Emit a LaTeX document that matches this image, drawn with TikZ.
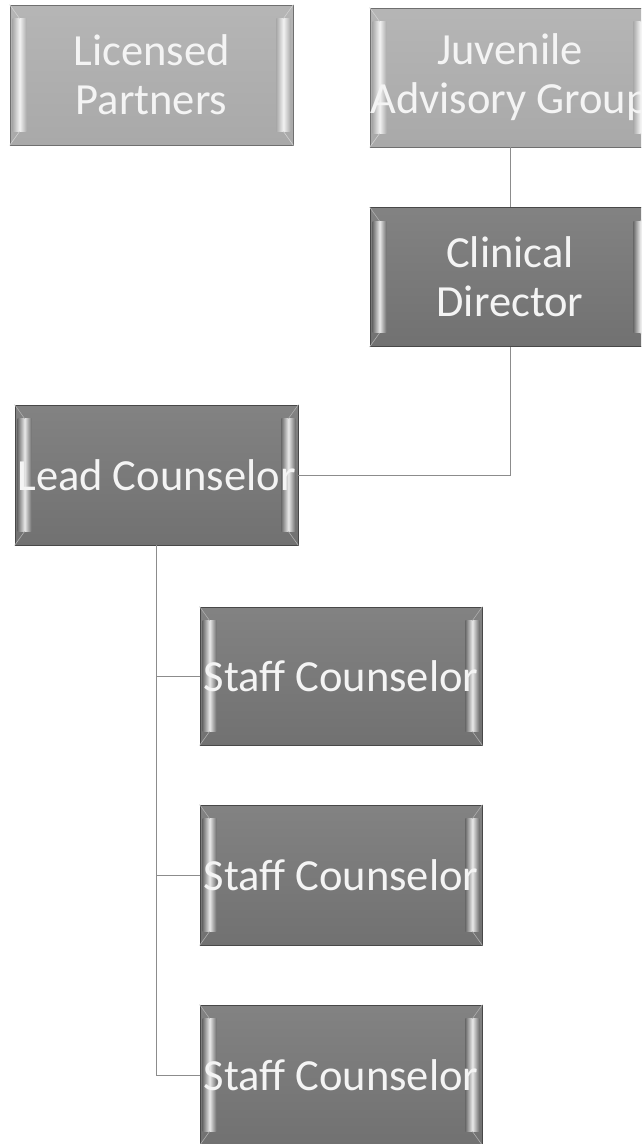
\documentclass[tikz,border=0pt]{standalone}
\usepackage{fontspec}
\setmainfont{Carlito}
\definecolor{lightbox}{HTML}{ABABAB}
\definecolor{darkbox}{HTML}{6E6E6E}
\definecolor{linkgray}{HTML}{8C8C8C}
\definecolor{txt}{HTML}{F4F4F4}
\pgfdeclarehorizontalshading{lightboxstrip}{100bp}{color(0bp)=(lightbox); color(25bp)=(lightbox); color(50bp)=(lightbox!15!white); color(75bp)=(lightbox); color(100bp)=(lightbox)}
\pgfdeclarehorizontalshading{darkboxstrip}{100bp}{color(0bp)=(darkbox); color(25bp)=(darkbox); color(50bp)=(darkbox!15!white); color(75bp)=(darkbox); color(100bp)=(darkbox)}
\pgfdeclareverticalshading{lightboxbody}{100bp}{color(0bp)=(lightbox!95!black); color(100bp)=(lightbox!80!white)}
\pgfdeclareverticalshading{darkboxbody}{100bp}{color(0bp)=(darkbox!95!black); color(100bp)=(darkbox!80!white)}
\tikzset{
  orgbox/.style={rectangle, inner sep=0pt, minimum width=280pt, minimum height=139pt,
    align=center, text=txt, font=\fontsize{44.5}{49}\selectfont,
    draw=#1!65!black, line width=0.8pt, shading=#1body},
  link/.style={draw=linkgray, line width=1pt}
}
\begin{document}
\begin{tikzpicture}[x=1pt,y=-1pt]
\useasboundingbox (0,0) rectangle (641,1144);
\clip (0,0) rectangle (641,1144);
% boxes (shaded body only; text placed afterwards on top of the bevels)
\node[orgbox=lightbox, minimum width=283pt, minimum height=140pt] (lp) at (151.5,75) {};
\node[orgbox=lightbox] (jag) at (510,77.5) {};
\node[orgbox=darkbox] (cd) at (510,277) {};
\node[orgbox=darkbox, minimum width=283pt, minimum height=140pt] (lc) at (156.5,475) {};
\node[orgbox=darkbox, minimum width=282pt, minimum height=138pt] (s1) at (341,676) {};
\node[orgbox=darkbox, minimum width=282pt, minimum height=140pt] (s2) at (341,875) {};
\node[orgbox=darkbox, minimum width=282pt, minimum height=140pt] (s3) at (341,1075) {};
% bevel highlights
\foreach \n/\c in {lp/lightbox, jag/lightbox, cd/darkbox, lc/darkbox, s1/darkbox, s2/darkbox, s3/darkbox}{
  \shade[shading=\c strip] ([xshift=3pt,yshift=-14pt]\n.north west) rectangle ([xshift=17pt,yshift=14pt]\n.south west);
  \shade[shading=\c strip] ([xshift=-17pt,yshift=-14pt]\n.north east) rectangle ([xshift=-3pt,yshift=14pt]\n.south east);
  \draw[\c!55!white, line width=0.6pt]
    (\n.north west) -- ([xshift=10pt,yshift=-14pt]\n.north west)
    (\n.south west) -- ([xshift=10pt,yshift=14pt]\n.south west)
    (\n.north east) -- ([xshift=-10pt,yshift=-14pt]\n.north east)
    (\n.south east) -- ([xshift=-10pt,yshift=14pt]\n.south east);
}
% texts
\tikzset{lbl/.style={inner sep=0pt, align=center, text=txt, font=\fontsize{44.5}{49}\selectfont}}
\node[lbl] (lpt) at (lp) {Licensed\\Partners};
\node[lbl] (jagt) at (jag) {Juvenile\\Advisory Group};
\node[lbl] (cdt) at (cd) {Clinical\\Director};
\node[lbl] (lct) at (lc) {Lead Counselor};
\node[lbl] (s1t) at (s1) {Staff Counselor};
\node[lbl] (s2t) at (s2) {Staff Counselor};
\node[lbl] (s3t) at (s3) {Staff Counselor};
% connectors
\coordinate (bend) at (cd.south |- lc.east);
\draw[link] (jag.south) -- (cd.north);
\draw[link] (cd.south) -- (bend) -- (lc.east);
\draw[link] (lc.south) -- (lc.south |- s3.west) -- (s3.west);
\draw[link] (lc.south |- s1.west) -- (s1.west);
\draw[link] (lc.south |- s2.west) -- (s2.west);
\end{tikzpicture}
\end{document}
